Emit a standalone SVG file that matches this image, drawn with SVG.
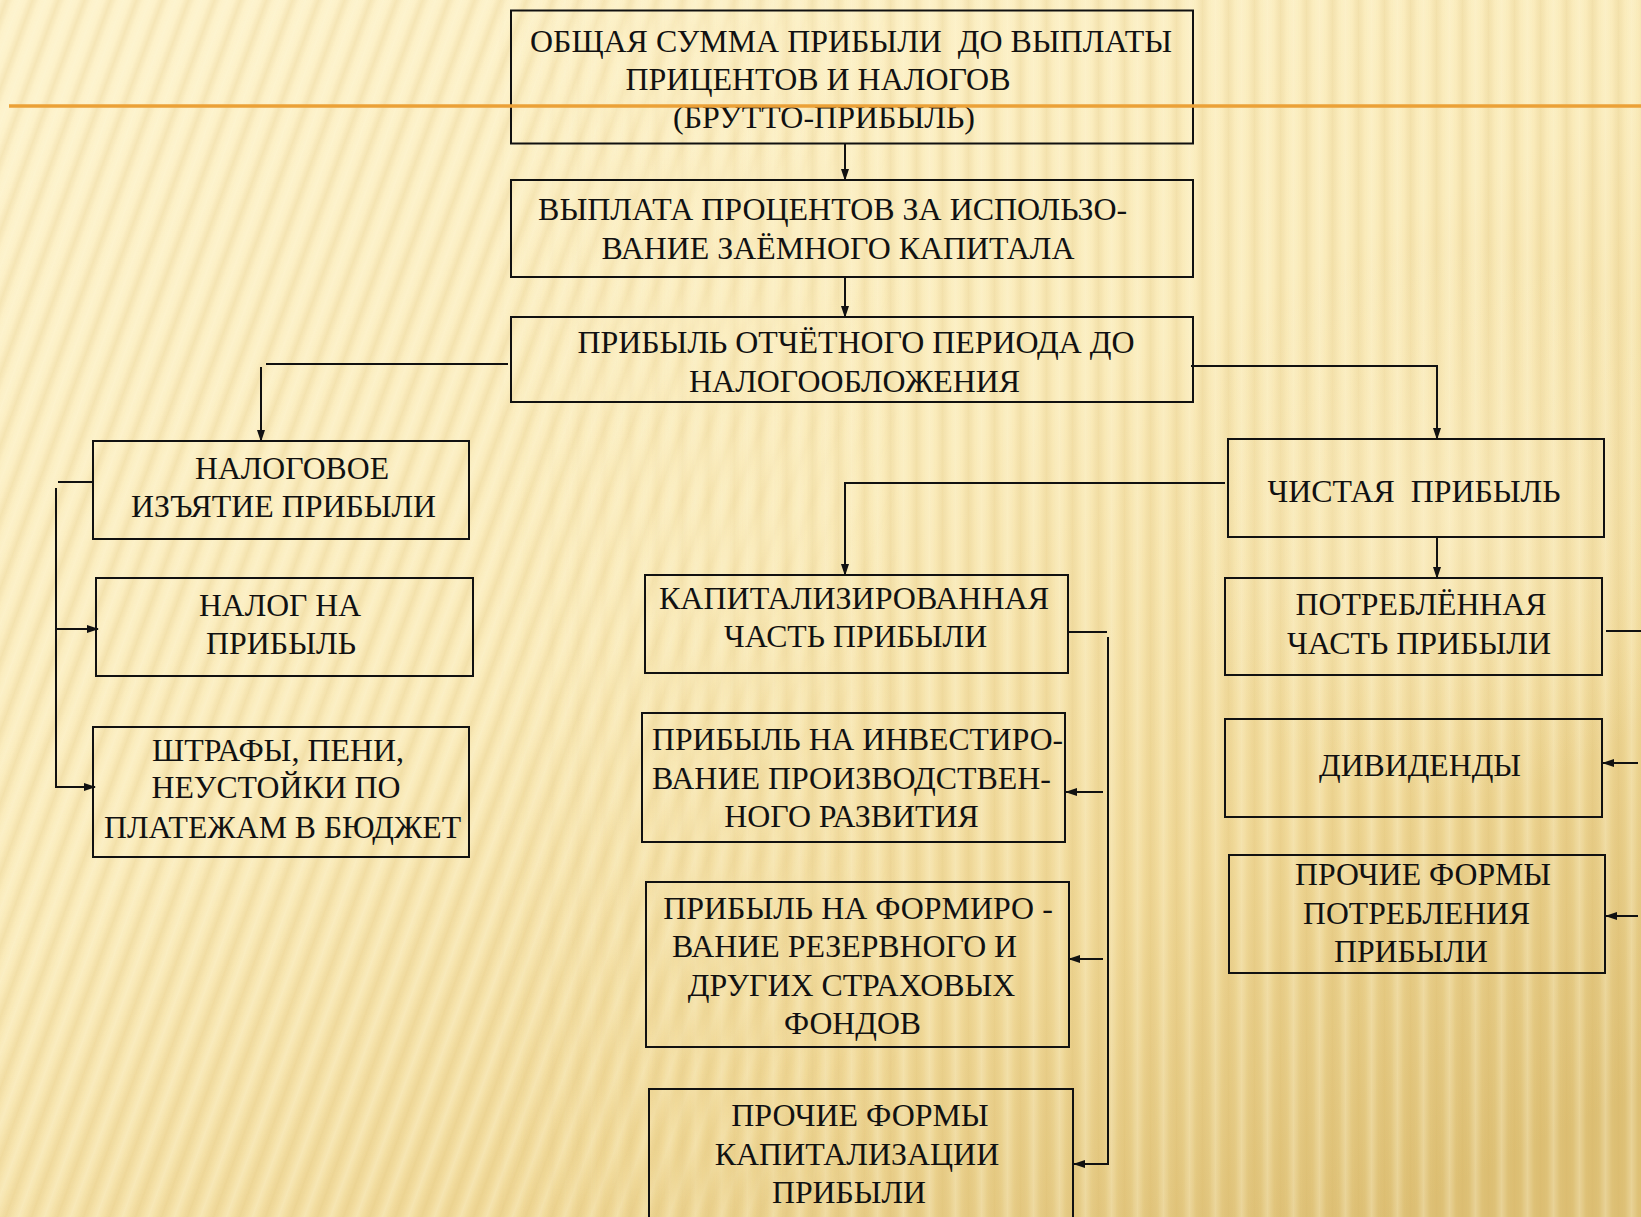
<svg xmlns="http://www.w3.org/2000/svg" width="1641" height="1217" viewBox="0 0 1641 1217">
<style>
.box{fill:none;stroke:#111;stroke-width:2}
.t{font-family:"Liberation Serif","Times New Roman",serif;font-size:32px;fill:#111;text-anchor:middle}
.c{fill:none;stroke:#111;stroke-width:2}
.ca{fill:none;stroke:#111;stroke-width:2;marker-end:url(#ah)}
</style>
<defs>
<marker id="ah" markerWidth="12" markerHeight="10" refX="11" refY="5" orient="auto" markerUnits="userSpaceOnUse"><path d="M0,1 L12,5 L0,9 z" fill="#111"/></marker>
<linearGradient id="bg" x1="0.15" y1="0" x2="0.85" y2="1">
<stop offset="0" stop-color="#FDF2CA"/>
<stop offset="0.45" stop-color="#FAEBBA"/>
<stop offset="0.75" stop-color="#F1DA9A"/>
<stop offset="1" stop-color="#DFC278"/>
</linearGradient>
<linearGradient id="sg" x1="0" y1="0" x2="1" y2="0">
<stop offset="0" stop-color="#C9A048" stop-opacity="0"/>
<stop offset="0.5" stop-color="#C9A048" stop-opacity="0.15"/>
<stop offset="1" stop-color="#C9A048" stop-opacity="0"/>
</linearGradient>
<linearGradient id="lg" x1="0" y1="0" x2="1" y2="0">
<stop offset="0" stop-color="#FFF8DC" stop-opacity="0"/>
<stop offset="0.5" stop-color="#FFF8DC" stop-opacity="0.3"/>
<stop offset="1" stop-color="#FFF8DC" stop-opacity="0"/>
</linearGradient>
<pattern id="pv" width="26" height="200" patternUnits="userSpaceOnUse">
<rect x="0" width="13" height="200" fill="url(#sg)"/>
<rect x="13" width="13" height="200" fill="url(#lg)"/>
</pattern>
<pattern id="pd" width="26" height="200" patternUnits="userSpaceOnUse" patternTransform="skewX(-20)">
<rect x="0" width="13" height="200" fill="url(#sg)"/>
<rect x="13" width="13" height="200" fill="url(#lg)"/>
</pattern>
<linearGradient id="mgL" gradientUnits="userSpaceOnUse" x1="0" y1="0" x2="1641" y2="0">
<stop offset="0" stop-color="#fff"/>
<stop offset="0.3" stop-color="#fff"/>
<stop offset="0.55" stop-color="#000"/>
</linearGradient>
<linearGradient id="mgR" gradientUnits="userSpaceOnUse" x1="0" y1="0" x2="1641" y2="0">
<stop offset="0" stop-color="#000"/>
<stop offset="0.3" stop-color="#000"/>
<stop offset="0.55" stop-color="#fff"/>
</linearGradient>
<mask id="mL"><rect width="1641" height="1217" fill="url(#mgL)"/></mask>
<mask id="mR"><rect width="1641" height="1217" fill="url(#mgR)"/></mask>
<radialGradient id="glow" cx="1450" cy="520" r="280" gradientUnits="userSpaceOnUse">
<stop offset="0" stop-color="#FFF6D6" stop-opacity="0.4"/>
<stop offset="1" stop-color="#FFF6D6" stop-opacity="0"/>
</radialGradient>
</defs>

<g id="background">
<rect width="1641" height="1217" fill="url(#bg)"/>
<rect width="1641" height="1217" fill="url(#pd)" mask="url(#mL)"/>
<rect width="1641" height="1217" fill="url(#pv)" mask="url(#mR)"/>
<rect width="1641" height="1217" fill="url(#glow)"/>
</g>

<g id="connectors">
<line class="ca" x1="845" y1="144" x2="845" y2="180"/>
<line class="ca" x1="845" y1="277" x2="845" y2="317"/>
<line class="c" x1="508" y1="364" x2="266" y2="364"/>
<line class="ca" x1="261" y1="367" x2="261" y2="441"/>
<polyline class="ca" points="1191,366 1437,366 1437,439"/>
<polyline class="ca" points="1225,483 845,483 845,575"/>
<line class="ca" x1="1437" y1="537" x2="1437" y2="578"/>
<line class="c" x1="1606" y1="631" x2="1641" y2="631"/>
<line class="ca" x1="1638" y1="763" x2="1603" y2="763"/>
<line class="ca" x1="1638" y1="916" x2="1606" y2="916"/>
<line class="c" x1="58" y1="482" x2="93" y2="482"/>
<line class="c" x1="56" y1="488" x2="56" y2="788"/>
<line class="ca" x1="56" y1="629" x2="98" y2="629"/>
<line class="ca" x1="56" y1="787" x2="95" y2="787"/>
<line class="c" x1="1068" y1="632" x2="1107" y2="632"/>
<line class="c" x1="1108" y1="637" x2="1108" y2="1165"/>
<line class="ca" x1="1103" y1="792" x2="1066" y2="792"/>
<line class="ca" x1="1103" y1="959" x2="1069" y2="959"/>
<line class="ca" x1="1108" y1="1164" x2="1074" y2="1164"/>
</g>

<g id="n-brutto">
<rect class="box" x="511" y="10.5" width="682" height="133"/>
<text class="t" xml:space="preserve" x="851" y="52" textLength="642" lengthAdjust="spacingAndGlyphs">ОБЩАЯ СУММА ПРИБЫЛИ  ДО ВЫПЛАТЫ</text>
<text class="t" x="818" y="90" textLength="385" lengthAdjust="spacingAndGlyphs">ПРИЦЕНТОВ И НАЛОГОВ</text>
<text class="t" x="824" y="127.5" textLength="302" lengthAdjust="spacingAndGlyphs">(БРУТТО-ПРИБЫЛЬ)</text>
</g>
<g id="n-interest">
<rect class="box" x="511" y="180" width="682" height="97"/>
<text class="t" x="832.6" y="220" textLength="589" lengthAdjust="spacingAndGlyphs">ВЫПЛАТА ПРОЦЕНТОВ ЗА ИСПОЛЬЗО-</text>
<text class="t" x="838" y="258.5" textLength="473" lengthAdjust="spacingAndGlyphs">ВАНИЕ ЗАЁМНОГО КАПИТАЛА</text>
</g>
<g id="n-pretax">
<rect class="box" x="511" y="317" width="682" height="85"/>
<text class="t" x="856" y="353" textLength="557" lengthAdjust="spacingAndGlyphs">ПРИБЫЛЬ ОТЧЁТНОГО ПЕРИОДА ДО</text>
<text class="t" x="854.6" y="392" textLength="331" lengthAdjust="spacingAndGlyphs">НАЛОГООБЛОЖЕНИЯ</text>
</g>
<g id="n-taxwithdrawal">
<rect class="box" x="93" y="441" width="376" height="98"/>
<text class="t" x="292" y="479" textLength="194" lengthAdjust="spacingAndGlyphs">НАЛОГОВОЕ</text>
<text class="t" x="283.6" y="517" textLength="305" lengthAdjust="spacingAndGlyphs">ИЗЪЯТИЕ ПРИБЫЛИ</text>
</g>
<g id="n-profittax">
<rect class="box" x="96" y="578" width="377" height="98"/>
<text class="t" x="280" y="615.5" textLength="162" lengthAdjust="spacingAndGlyphs">НАЛОГ НА</text>
<text class="t" x="281" y="653.5" textLength="150" lengthAdjust="spacingAndGlyphs">ПРИБЫЛЬ</text>
</g>
<g id="n-fines">
<rect class="box" x="93" y="727" width="376" height="130"/>
<text class="t" x="278" y="761" textLength="252" lengthAdjust="spacingAndGlyphs">ШТРАФЫ, ПЕНИ,</text>
<text class="t" x="276" y="798" textLength="249" lengthAdjust="spacingAndGlyphs">НЕУСТОЙКИ ПО</text>
<text class="t" x="282.6" y="837.5" textLength="357" lengthAdjust="spacingAndGlyphs">ПЛАТЕЖАМ В БЮДЖЕТ</text>
</g>
<g id="n-capitalized">
<rect class="box" x="645" y="575" width="423" height="98"/>
<text class="t" x="854" y="609" textLength="390" lengthAdjust="spacingAndGlyphs">КАПИТАЛИЗИРОВАННАЯ</text>
<text class="t" x="855.6" y="646.5" textLength="263" lengthAdjust="spacingAndGlyphs">ЧАСТЬ ПРИБЫЛИ</text>
</g>
<g id="n-invest">
<rect class="box" x="642" y="713" width="423" height="129"/>
<text class="t" x="857.6" y="749.5" textLength="411" lengthAdjust="spacingAndGlyphs">ПРИБЫЛЬ НА ИНВЕСТИРО-</text>
<text class="t" x="851.5" y="788.5" textLength="399" lengthAdjust="spacingAndGlyphs">ВАНИЕ ПРОИЗВОДСТВЕН-</text>
<text class="t" x="851.5" y="826.5" textLength="254.6" lengthAdjust="spacingAndGlyphs">НОГО РАЗВИТИЯ</text>
</g>
<g id="n-reserve">
<rect class="box" x="646" y="882" width="423" height="165"/>
<text class="t" x="858" y="918.5" textLength="389.5" lengthAdjust="spacingAndGlyphs">ПРИБЫЛЬ НА ФОРМИРО -</text>
<text class="t" x="844.6" y="957" textLength="345" lengthAdjust="spacingAndGlyphs">ВАНИЕ РЕЗЕРВНОГО И</text>
<text class="t" x="851.5" y="996" textLength="327.4" lengthAdjust="spacingAndGlyphs">ДРУГИХ СТРАХОВЫХ</text>
<text class="t" x="852.5" y="1034" textLength="137" lengthAdjust="spacingAndGlyphs">ФОНДОВ</text>
</g>
<g id="n-othercap">
<rect class="box" x="649" y="1089" width="424" height="160"/>
<text class="t" x="860" y="1126" textLength="257.4" lengthAdjust="spacingAndGlyphs">ПРОЧИЕ ФОРМЫ</text>
<text class="t" x="857" y="1164.5" textLength="284.5" lengthAdjust="spacingAndGlyphs">КАПИТАЛИЗАЦИИ</text>
<text class="t" x="849" y="1202.5" textLength="154" lengthAdjust="spacingAndGlyphs">ПРИБЫЛИ</text>
</g>
<g id="n-net">
<rect class="box" x="1228" y="439" width="376" height="98"/>
<text class="t" xml:space="preserve" x="1414" y="502" textLength="293" lengthAdjust="spacingAndGlyphs">ЧИСТАЯ  ПРИБЫЛЬ</text>
</g>
<g id="n-consumed">
<rect class="box" x="1225" y="578" width="377" height="97"/>
<text class="t" x="1421" y="615" textLength="251" lengthAdjust="spacingAndGlyphs">ПОТРЕБЛЁННАЯ</text>
<text class="t" x="1419" y="654" textLength="264" lengthAdjust="spacingAndGlyphs">ЧАСТЬ ПРИБЫЛИ</text>
</g>
<g id="n-dividends">
<rect class="box" x="1225" y="719" width="377" height="98"/>
<text class="t" x="1420" y="776" textLength="202" lengthAdjust="spacingAndGlyphs">ДИВИДЕНДЫ</text>
</g>
<g id="n-otherconsume">
<rect class="box" x="1229" y="855" width="376" height="118"/>
<text class="t" x="1423" y="885" textLength="256" lengthAdjust="spacingAndGlyphs">ПРОЧИЕ ФОРМЫ</text>
<text class="t" x="1416.6" y="924" textLength="227" lengthAdjust="spacingAndGlyphs">ПОТРЕБЛЕНИЯ</text>
<text class="t" x="1411" y="962" textLength="154" lengthAdjust="spacingAndGlyphs">ПРИБЫЛИ</text>
</g>

<line id="accent-line" x1="9" y1="106" x2="1641" y2="106" stroke="#EBA137" stroke-width="3.5"/>
</svg>
